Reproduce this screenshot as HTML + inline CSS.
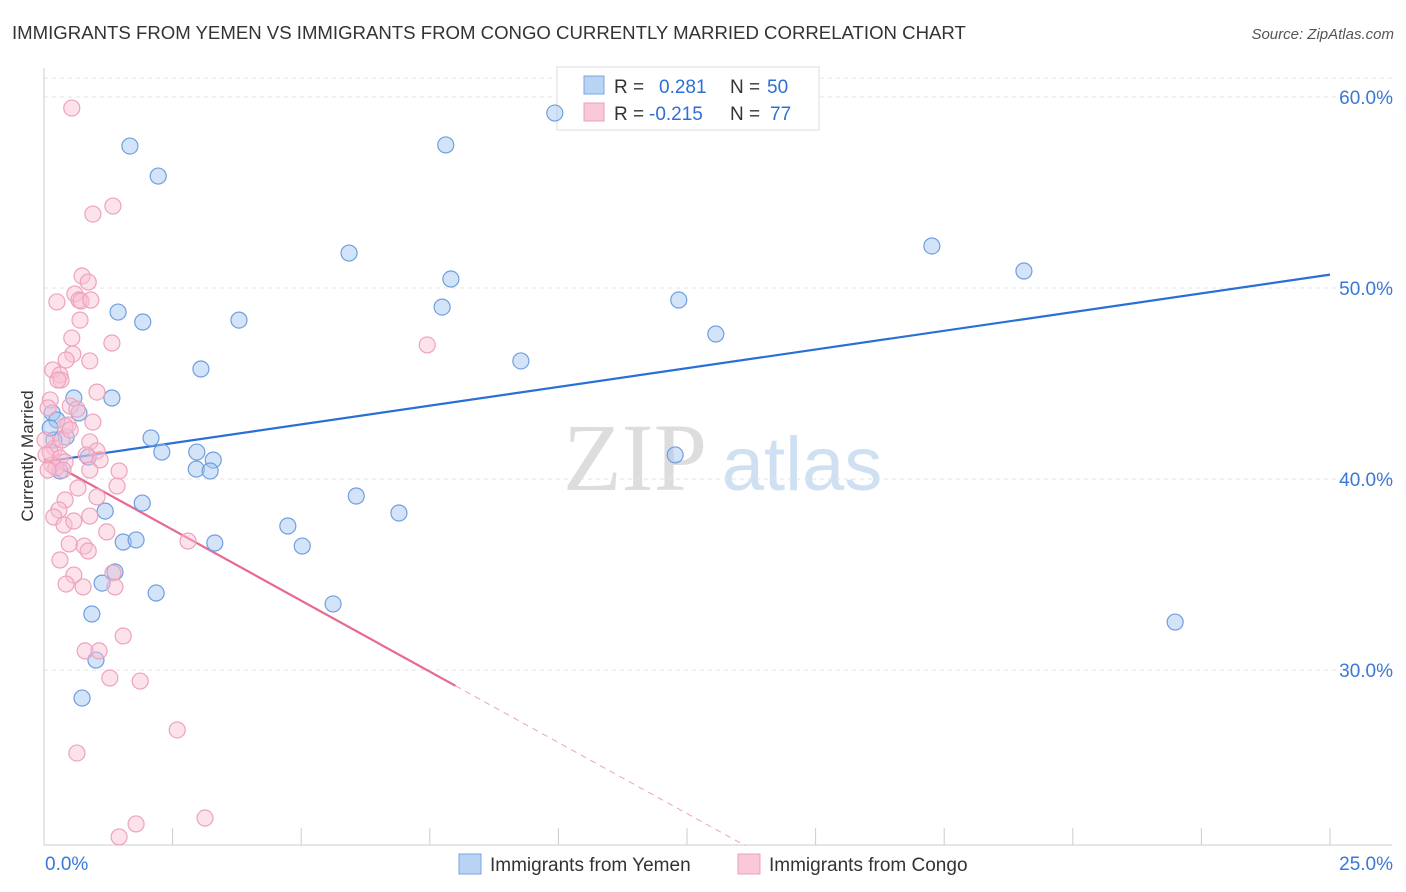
<!DOCTYPE html>
<html><head><meta charset="utf-8"><style>
body{margin:0;background:#fff;font-family:"Liberation Sans",sans-serif;}
svg{display:block}
</style></head><body>
<svg id="chart" width="1406" height="892">
<text x="12" y="39" font-size="18.6" fill="#333">IMMIGRANTS FROM YEMEN VS IMMIGRANTS FROM CONGO CURRENTLY MARRIED CORRELATION CHART</text>
<text x="1394" y="39" font-size="15" fill="#555" font-style="italic" text-anchor="end">Source: ZipAtlas.com</text>
<text transform="translate(33,456) rotate(-90)" font-size="17" fill="#333" text-anchor="middle">Currently Married</text>
<g>
<text x="635" y="490" font-size="96" font-family="Liberation Serif,serif" fill="#ddd" text-anchor="middle">ZIP</text>
<text x="802" y="490" font-size="76" fill="#cfe0f3" text-anchor="middle">atlas</text>
</g>
<g id="grid"></g><g id="axes"></g><g id="lines"></g>
<g>
<rect x="557" y="67" width="262" height="63" fill="#fff" stroke="#ddd"/>
<rect x="584" y="76" width="20" height="18" fill="#b9d3f5" stroke="#7aa6e0"/>
<rect x="584" y="103" width="20" height="18" fill="#f9c9d8" stroke="#eca0b8"/>
<text x="614" y="93" font-size="19" fill="#333">R = </text><text x="659" y="93" font-size="19" fill="#2d6fd6">0.281</text>
<text x="730" y="93" font-size="19" fill="#333">N = </text><text x="767" y="93" font-size="19" fill="#2d6fd6">50</text>
<text x="614" y="120" font-size="19" fill="#333">R = </text><text x="649" y="120" font-size="19" fill="#2d6fd6">-0.215</text>
<text x="730" y="120" font-size="19" fill="#333">N = </text><text x="770" y="120" font-size="19" fill="#2d6fd6">77</text>
</g>
<g id="pts"></g>
<g>
<rect x="459" y="854" width="22" height="20" fill="#b9d3f5" stroke="#7aa6e0"/>
<text x="490" y="871" font-size="19" fill="#333">Immigrants from Yemen</text>
<rect x="738" y="854" width="22" height="20" fill="#f9c9d8" stroke="#eca0b8"/>
<text x="769" y="871" font-size="19" fill="#333">Immigrants from Congo</text>
</g>
</svg>
<script>
const yemenX=[1.67,2.22,7.81,9.93,5.93,7.91,7.74,17.26,19.05,12.34,13.06,9.27,1.44,1.92,3.79,3.05,1.32,0.58,0.68,0.16,0.25,0.43,2.08,2.29,2.97,0.86,3.29,2.96,3.23,0.31,12.27,1.91,1.19,6.07,6.9,4.74,1.54,1.79,3.32,5.02,1.13,1.38,2.18,0.93,5.62,21.99,1.01,0.74,0.19,0.12];
const yemenY=[57.43,55.86,57.49,59.16,51.83,50.47,49.0,52.2,50.89,49.37,47.59,46.18,48.74,48.22,48.32,45.76,44.24,44.24,43.46,43.46,43.09,42.2,42.15,41.41,41.41,41.15,40.99,40.52,40.42,40.42,41.26,38.74,38.32,39.11,38.22,37.54,36.7,36.81,36.65,36.49,34.55,35.13,34.03,32.93,33.46,32.51,30.52,28.53,42.04,42.67];
const congoX=[0.54,1.34,0.95,0.74,0.86,0.6,0.68,0.72,0.25,0.7,0.54,1.32,7.45,0.56,0.89,0.17,0.31,0.33,1.03,0.12,0.08,0.51,0.64,0.95,0.47,0.41,0.89,0.21,1.03,0.12,0.82,0.31,0.41,0.16,0.23,0.37,1.46,0.08,1.42,0.66,0.41,1.03,0.29,0.89,0.19,1.22,0.39,0.49,0.78,2.8,0.86,0.58,0.43,0.76,1.34,1.38,1.54,0.8,1.07,1.28,1.87,2.59,0.64,3.13,1.79,1.46,0.02,0.04,0.35,0.51,1.09,0.27,0.91,0.43,0.58,0.31,0.89];
const congoY=[59.42,54.29,53.87,50.63,50.31,49.69,49.37,49.32,49.27,48.32,47.38,47.12,47.02,46.54,46.18,45.71,45.45,45.18,44.55,44.14,43.72,43.82,43.66,42.98,42.83,42.77,41.94,41.62,41.47,41.41,41.26,41.1,40.89,40.73,40.58,40.47,40.42,40.47,39.63,39.53,38.9,39.06,38.38,38.06,38.01,37.23,37.59,36.6,36.49,36.75,36.23,34.97,34.5,34.35,35.08,34.35,31.78,31.0,31.0,29.58,29.42,26.86,25.65,22.25,21.94,21.26,42.04,41.26,42.04,42.57,41.0,45.18,49.37,46.23,37.8,35.76,40.47];
const yTicks=[30,40,50,60];
const xTickLabels=["0.0%","25.0%"];
const yemenFit=[40.9,50.7];
const congoFit=[41.06,-1.486];
const NS="http://www.w3.org/2000/svg";
const X=v=>44+v/25*1286, Y=v=>97+(60-v)*19.1;
function mk(p,tag,a){const e=document.createElementNS(NS,tag);for(const k in a)e.setAttribute(k,a[k]);document.getElementById(p).appendChild(e);return e;}
let e=mk('grid','line',{x1:44,x2:1392,y1:78,y2:78,stroke:'#e3e3e3','stroke-dasharray':'4,4'});


yTicks.forEach(t=>{
 let g=mk('grid','line',{x1:44,x2:1392,y1:Y(t),y2:Y(t),stroke:'#e3e3e3','stroke-dasharray':'4,4'});
 
 
 let l=mk('grid','text',{x:1393,y:Y(t)+7,'font-size':19,fill:'#3a78d6','text-anchor':'end'});l.textContent=t.toFixed(1)+'%';
 
 
});
e=mk('axes','line',{x1:44,x2:44,y1:68,y2:845,stroke:'#ccc'});


e=mk('axes','line',{x1:44,x2:1392,y1:845,y2:845,stroke:'#ccc'});


for(let i=0;i<=10;i++){let t=mk('axes','line',{x1:X(i*2.5),x2:X(i*2.5),y1:828,y2:845,stroke:'#ccc'});
 
 }
e=mk('axes','text',{x:45,y:870,'font-size':19,fill:'#3a78d6'});e.textContent=xTickLabels[0];


e=mk('axes','text',{x:1393,y:870,'font-size':19,fill:'#3a78d6','text-anchor':'end'});e.textContent=xTickLabels[1];


yemenX.forEach((x,i)=>{let c=mk('pts','circle',{cx:X(x),cy:Y(yemenY[i]),r:8,fill:'rgba(160,196,240,0.45)',stroke:'#6f9fe0','stroke-width':1.2});
 
 });
congoX.forEach((x,i)=>{let c=mk('pts','circle',{cx:X(x),cy:Y(congoY[i]),r:8,fill:'rgba(248,190,210,0.45)',stroke:'#eea2bc','stroke-width':1.2});
 
 });
e=mk('lines','line',{x1:X(0),y1:Y(yemenFit[0]),x2:X(25),y2:Y(yemenFit[1]),stroke:'#2a6fd6','stroke-width':2.2});


const cy=x=>congoFit[0]+congoFit[1]*x;
e=mk('lines','line',{x1:X(0),y1:Y(cy(0)),x2:X(8),y2:Y(cy(8)),stroke:'#e8688f','stroke-width':2.2});


const xEnd=(20.8-congoFit[0])/congoFit[1];
e=mk('lines','line',{x1:X(8),y1:Y(cy(8)),x2:X(xEnd),y2:Y(cy(xEnd)),stroke:'#eea2bc','stroke-width':1,'stroke-dasharray':'6,5'});


</script>
</body></html>
